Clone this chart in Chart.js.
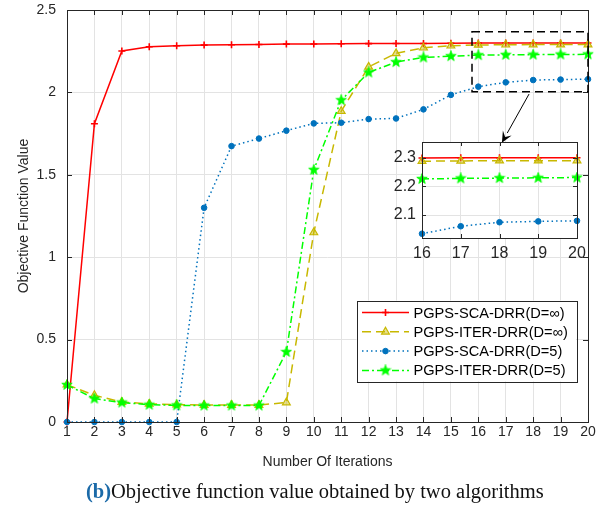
<!DOCTYPE html>
<html>
<head>
<meta charset="utf-8">
<script src="https://cdn.jsdelivr.net/npm/chart.js@4.4.1/dist/chart.umd.min.js"></script>
<style>
  html, body { margin: 0; padding: 0; background: #fff; }
  #wrap { position: relative; width: 606px; height: 512px; overflow: hidden; }
  #main { position: absolute; left: 0; top: 0; }
  #inset { position: absolute; left: 385px; top: 135px; }
  #caption { position: absolute; left: 86px; top: 480px; font-family: "Liberation Serif", "Times New Roman", serif; font-size: 20.5px; color: #111; white-space: nowrap; line-height: 22px; }
  #caption b { color: #1b6aa8; }
</style>
</head>
<body>
<div id="wrap">
  <canvas id="main" width="606" height="512"></canvas>
  <canvas id="inset" width="215" height="135"></canvas>
  <div id="caption"><b>(b)</b>Objective function value obtained by two algorithms</div>
</div>
<script>
// ---------------- data ----------------
const iterations = [1,2,3,4,5,6,7,8,9,10,11,12,13,14,15,16,17,18,19,20];
const labels = ['PGPS-SCA-DRR(D=\u221E)', 'PGPS-ITER-DRR(D=\u221E)', 'PGPS-SCA-DRR(D=5)', 'PGPS-ITER-DRR(D=5)'];
const scaInf  = [0, 1.81, 2.251, 2.277, 2.283, 2.287, 2.289, 2.291, 2.293, 2.294, 2.295, 2.296, 2.297, 2.297, 2.298, 2.299, 2.3, 2.3, 2.3, 2.3];
const iterInf = [0.227, 0.162, 0.121, 0.11, 0.105, 0.103, 0.103, 0.103, 0.118, 1.15, 1.886, 2.155, 2.237, 2.271, 2.283, 2.288, 2.289, 2.29, 2.29, 2.29];
const sca5    = [0, 0, 0, 0, 0, 1.30, 1.674, 1.72, 1.768, 1.812, 1.816, 1.838, 1.842, 1.897, 1.985, 2.035, 2.061, 2.075, 2.078, 2.08];
const iter5   = [0.225, 0.142, 0.118, 0.105, 0.101, 0.1, 0.1, 0.1, 0.425, 1.53, 1.953, 2.121, 2.184, 2.212, 2.22, 2.226, 2.228, 2.229, 2.23, 2.231];
const yTicksMain = [0, 0.5, 1, 1.5, 2, 2.5];
const xTicksInset = [16, 17, 18, 19, 20];
const yTicksInset = [2.1, 2.2, 2.3];
const zoomBox = { x0: 15.77, x1: 20, y0: 2.004, y1: 2.368 };
const arrowFrom = { x: 17.85, y: 1.99 };
const arrowTo = { x: 16.86, y: 1.695 };

// ---------------- styles ----------------
const FONT = '"Liberation Sans", Arial, Helvetica, sans-serif';
const AXC = '#262626';
const GRID = '#e3e3e3';

function makeStar(size, color) {
  const c = document.createElement('canvas');
  c.width = size; c.height = size;
  const g = c.getContext('2d');
  const cx = size / 2, cy = size / 2, R = size / 2 - 0.5, r = R * 0.42;
  g.beginPath();
  for (let i = 0; i < 10; i++) {
    const a = -Math.PI / 2 + i * Math.PI / 5;
    const rr = i % 2 === 0 ? R : r;
    g.lineTo(cx + rr * Math.cos(a), cy + rr * Math.sin(a));
  }
  g.closePath();
  g.fillStyle = color; g.fill();
  g.strokeStyle = color; g.lineWidth = 0.8; g.stroke();
  return c;
}
const starImg = makeStar(12, '#00ff00');

const styles = [
  { color: '#ff0000', dash: [], pointStyle: 'cross', radius: 3.5, bg: '#ff0000', pbw: 1.6, order: 4 },
  { color: '#c8b800', dash: [9, 5], pointStyle: 'triangle', radius: 4.5, bg: 'rgba(200,184,0,0.45)', pbw: 1.2, order: 3 },
  { color: '#0072bd', dash: [1.5, 3], pointStyle: 'circle', radius: 2.8, bg: '#0072bd', pbw: 1, order: 2 },
  { color: '#00ff00', dash: [7, 3, 2, 3], pointStyle: starImg, radius: 6, bg: '#00ff00', pbw: 1, order: 1 }
];
const series = [scaInf, iterInf, sca5, iter5];

function buildDatasets(minX) {
  return series.map((vals, k) => {
    const s = styles[k];
    const pts = [];
    iterations.forEach((x, i) => { if (x >= minX) pts.push({ x: x, y: vals[i] }); });
    return {
      label: labels[k], data: pts, order: s.order,
      borderColor: s.color, borderWidth: 1.5, borderDash: s.dash,
      pointStyle: s.pointStyle, pointRadius: s.radius,
      pointBackgroundColor: s.bg, pointBorderColor: s.color, pointBorderWidth: s.pbw,
      fill: false, tension: 0, clip: false
    };
  });
}

function drawMarker(ctx, s, x, y) {
  ctx.save();
  ctx.setLineDash([]);
  if (s.pointStyle === starImg) {
    ctx.drawImage(starImg, x - starImg.width / 2, y - starImg.height / 2);
  } else {
    ctx.fillStyle = s.bg; ctx.strokeStyle = s.color; ctx.lineWidth = s.pbw;
    Chart.helpers.drawPoint(ctx, { pointStyle: s.pointStyle, radius: s.radius, borderWidth: s.pbw }, x, y);
  }
  ctx.restore();
}

function noPad(s) { s.paddingTop = 0; s.paddingBottom = 0; s.paddingLeft = 0; s.paddingRight = 0; }

// box + inward ticks
const boxPlugin = {
  id: 'matlabBox',
  afterDatasetsDraw(chart, args, opts) {
    const { ctx, chartArea: a, scales: { x, y } } = chart;
    ctx.save();
    ctx.strokeStyle = AXC; ctx.lineWidth = 1; ctx.setLineDash([]);
    ctx.strokeRect(Math.round(a.left) + 0.5, Math.round(a.top) + 0.5, Math.round(a.right - a.left), Math.round(a.bottom - a.top));
    const tl = opts.tickLen || 5;
    ctx.beginPath();
    x.ticks.forEach(t => {
      const px = Math.round(x.getPixelForValue(t.value)) + 0.5;
      ctx.moveTo(px, a.bottom); ctx.lineTo(px, a.bottom - tl);
      ctx.moveTo(px, a.top); ctx.lineTo(px, a.top + tl);
    });
    y.ticks.forEach(t => {
      const py = Math.round(y.getPixelForValue(t.value)) + 0.5;
      ctx.moveTo(a.left, py); ctx.lineTo(a.left + tl, py);
      ctx.moveTo(a.right, py); ctx.lineTo(a.right - tl, py);
    });
    ctx.stroke();
    ctx.restore();
  }
};

// zoom box, arrow, legend on main chart
const annotPlugin = {
  id: 'annot',
  afterDraw(chart) {
    const { ctx, chartArea: a, scales: { x, y } } = chart;
    ctx.save();
    const rx0 = x.getPixelForValue(zoomBox.x0), rx1 = x.getPixelForValue(zoomBox.x1);
    const ry0 = y.getPixelForValue(zoomBox.y1), ry1 = y.getPixelForValue(zoomBox.y0);
    ctx.strokeStyle = '#000'; ctx.lineWidth = 1.5; ctx.setLineDash([8, 5]);
    ctx.strokeRect(rx0, ry0, rx1 - rx0, ry1 - ry0);
    ctx.setLineDash([]);
    const ax0 = x.getPixelForValue(arrowFrom.x), ay0 = y.getPixelForValue(arrowFrom.y);
    const ax1 = x.getPixelForValue(arrowTo.x), ay1 = y.getPixelForValue(arrowTo.y);
    const ang = Math.atan2(ay1 - ay0, ax1 - ax0);
    const hl = 11, hw = 5;
    const bx = ax1 - hl * Math.cos(ang), by = ay1 - hl * Math.sin(ang);
    ctx.lineWidth = 1; ctx.strokeStyle = '#000';
    ctx.beginPath(); ctx.moveTo(ax0, ay0); ctx.lineTo(bx, by); ctx.stroke();
    ctx.beginPath();
    ctx.moveTo(ax1, ay1);
    ctx.lineTo(bx + hw * Math.sin(ang), by - hw * Math.cos(ang));
    ctx.lineTo(ax1 - 0.6 * hl * Math.cos(ang), ay1 - 0.6 * hl * Math.sin(ang));
    ctx.lineTo(bx - hw * Math.sin(ang), by + hw * Math.cos(ang));
    ctx.closePath(); ctx.fillStyle = '#000'; ctx.fill();

    // legend
    const lw = 219.5, lh = 81;
    const lx = a.right - 12 - lw, ly = a.top + 290.5;
    ctx.fillStyle = '#fff';
    ctx.fillRect(lx, ly, lw, lh);
    ctx.strokeStyle = AXC; ctx.lineWidth = 1;
    ctx.strokeRect(Math.round(lx) + 0.5, Math.round(ly) + 0.5, Math.round(lw), Math.round(lh));
    ctx.font = '14.6px ' + FONT;
    ctx.textBaseline = 'middle'; ctx.textAlign = 'left';
    labels.forEach((lab, k) => {
      const s = styles[k];
      const rowY = ly + 12 + k * 19.3;
      ctx.save();
      ctx.strokeStyle = s.color; ctx.lineWidth = 1.5; ctx.setLineDash(s.dash);
      ctx.beginPath(); ctx.moveTo(lx + 5.5, rowY); ctx.lineTo(lx + 52.5, rowY); ctx.stroke();
      ctx.restore();
      drawMarker(ctx, s, lx + 29, rowY);
      ctx.fillStyle = '#000';
      ctx.fillText(lab, lx + 57, rowY + 1);
    });
    ctx.restore();
  }
};

const whiteArea = {
  id: 'whiteArea',
  beforeDraw(chart) {
    const { ctx, chartArea: a } = chart;
    ctx.save(); ctx.fillStyle = '#fff';
    ctx.fillRect(a.left, a.top, a.right - a.left, a.bottom - a.top);
    ctx.restore();
  }
};

// ---------------- main chart ----------------
new Chart(document.getElementById('main'), {
  type: 'line',
  data: { datasets: buildDatasets(1) },
  options: {
    responsive: false, animation: false, events: [],
    layout: { padding: { left: 0, right: 18, top: 10, bottom: 38 } },
    plugins: { legend: { display: false }, tooltip: { enabled: false }, matlabBox: { tickLen: 5 } },
    scales: {
      x: {
        type: 'linear', min: 1, max: 20,
        afterBuildTicks: s => { s.ticks = iterations.map(v => ({ value: v })); },
        afterFit: s => { s.height = 52; noPad(s); },
        ticks: { font: { family: FONT, size: 14 }, color: AXC, padding: 2, maxRotation: 0, autoSkip: false, callback: v => String(v) },
        grid: { color: GRID, drawTicks: false, lineWidth: 1 },
        border: { display: false },
        title: { display: true, text: 'Number Of Iterations', font: { family: FONT, size: 14 }, color: AXC, padding: { top: 4, bottom: 3 } }
      },
      y: {
        type: 'linear', min: 0, max: 2.5,
        afterBuildTicks: s => { s.ticks = yTicksMain.map(v => ({ value: v })); },
        afterFit: s => { s.width = 67; noPad(s); },
        ticks: { font: { family: FONT, size: 14 }, color: AXC, padding: 11, callback: v => String(v) },
        grid: { color: GRID, drawTicks: false, lineWidth: 1 },
        border: { display: false },
        title: { display: true, text: 'Objective Function Value', font: { family: FONT, size: 14 }, color: AXC, padding: { top: 16, bottom: 4 } }
      }
    }
  },
  plugins: [boxPlugin, annotPlugin]
});

// ---------------- inset chart ----------------
new Chart(document.getElementById('inset'), {
  type: 'line',
  data: { datasets: buildDatasets(16) },
  options: {
    responsive: false, animation: false, events: [],
    layout: { padding: { left: 0, right: 23, top: 7, bottom: 0 } },
    plugins: { legend: { display: false }, tooltip: { enabled: false }, matlabBox: { tickLen: 4 } },
    scales: {
      x: {
        type: 'linear', min: 16, max: 20,
        afterBuildTicks: s => { s.ticks = xTicksInset.map(v => ({ value: v })); },
        afterFit: s => { s.height = 32; noPad(s); },
        ticks: { font: { family: FONT, size: 16 }, color: AXC, padding: 6, maxRotation: 0, autoSkip: false, callback: v => String(v) },
        grid: { color: GRID, drawTicks: false },
        border: { display: false }
      },
      y: {
        type: 'linear', min: 2.02, max: 2.355,
        afterBuildTicks: s => { s.ticks = yTicksInset.map(v => ({ value: v })); },
        afterFit: s => { s.width = 37; noPad(s); },
        ticks: { font: { family: FONT, size: 16 }, color: AXC, padding: 6, callback: v => v.toFixed(1) },
        grid: { color: GRID, drawTicks: false },
        border: { display: false }
      }
    }
  },
  plugins: [whiteArea, boxPlugin]
});
</script>
</body>
</html>
